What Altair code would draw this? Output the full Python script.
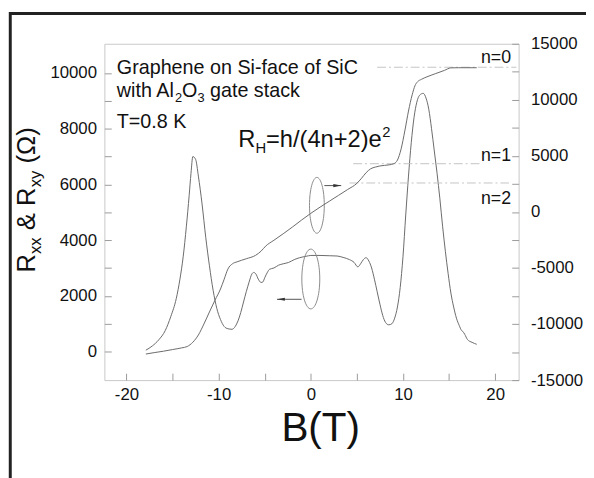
import altair as alt
import pandas as pd

FONT = "Liberation Sans"

# ---------------- data ----------------
# R_xx (left axis, Ohm) vs B (T)
B_xx = [-17.9, -17.2, -16.5, -15.8, -15.2, -14.6, -14.2, -13.85, -13.5, -13.2, -13.0, -12.8,
        -12.5, -12.2, -11.8, -11.4, -11.0, -10.6, -10.2, -9.8, -9.4, -9.0, -8.55, -8.2, -7.9,
        -7.6, -7.3, -7.0, -6.7, -6.4, -6.2, -5.95, -5.7, -5.4, -5.2, -5.0, -4.7, -4.5, -4.0,
        -3.5, -3.0, -2.4, -1.8, -1.2, -0.5, 0.0, 1.0, 2.0, 2.85, 3.5, 4.2, 4.7, 5.1, 5.4, 5.7,
        6.0, 6.3, 6.6, 6.9, 7.2, 7.5, 7.8, 8.1, 8.45, 8.8, 9.1, 9.4, 9.7, 10.0, 10.3, 10.6,
        10.9, 11.2, 11.5, 11.8, 12.2, 12.5, 12.8, 13.1, 13.4, 13.7, 14.0, 14.3, 14.6, 14.9,
        15.2, 15.5, 15.8, 16.1, 16.35, 16.5, 16.7, 17.0, 17.5, 18.0]
R_xx = [50, 200, 420, 750, 1250, 1900, 2600, 3400, 4500, 5600, 6400, 7000,
        6900, 6300, 5300, 4100, 3080, 2200, 1550, 1150, 900, 820, 800, 900, 1100,
        1400, 1780, 2150, 2490, 2780, 2840, 2780, 2600, 2480, 2500, 2650, 2850, 2950, 3000,
        3100, 3150, 3200, 3300, 3370, 3420, 3450, 3450, 3440, 3430, 3380, 3300, 3200, 3040, 3150, 3300,
        3370, 3250, 3000, 2600, 2150, 1700, 1300, 1050, 960, 1000, 1200, 1600, 2300, 3400, 4900, 6300,
        7500, 8400, 8950, 9200, 9270, 9100, 8700, 8000, 7200, 6400, 5500, 4500, 3600, 2800,
        2100, 1600, 1200, 940, 760, 720, 620, 430, 330, 260]

# R_xy (right axis, Ohm) vs B (T)
B_xy = [-17.9, -17.0, -16.0, -15.0, -14.0, -13.4, -12.8, -12.2, -11.6, -11.0, -10.4, -9.8,
        -9.4, -9.0, -8.5, -8.0, -7.0, -6.0, -5.4, -4.9, -4.0, -3.0, -2.0, -1.0, 0.0, 1.0,
        2.0, 3.0, 4.0, 5.0, 5.5, 6.0, 6.5, 7.0, 7.5, 8.0, 8.5, 9.0, 9.4, 9.8, 10.2, 10.6,
        11.0, 11.3, 11.6, 12.0, 12.6, 13.5, 14.5, 15.2, 16.0, 18.0]
R_xy = [-12675, -12550, -12425, -12275, -12125, -12000, -11625, -10975, -10000, -8925, -7875, -6875,
        -6000, -5100, -4625, -4450, -4175, -3875, -3500, -3050, -2525, -1950, -1350, -725, -125, 425,
        950, 1475, 2000, 2550, 3000, 3500, 3850, 4000, 4100, 4150, 4200, 4300, 4625, 5625, 7225, 9000,
        10450, 11250, 11625, 11825, 12050, 12325, 12625, 12850, 12862, 12862]

# quantised Hall plateaus h/((4n+2)e^2) and where their guide lines run
plateau_R = [12906, 4302, 2581]
plateau_B0 = [7.2, 4.6, 4.2]
plateau_B1 = [22.3, 18.5, 21.5]

x_ticks = [-20, -15, -10, -5, 0, 5, 10, 15, 20]
left_ticks = [0, 1000, 2000, 3000, 4000, 5000, 6000, 7000, 8000, 9000, 10000]
right_ticks = [-15000, -12500, -10000, -7500, -5000, -2500, 0, 2500, 5000, 7500, 10000, 12500, 15000]

# annotation ellipses / arrows (B, R_xx-axis units)
ell_B = [0.66, 0.0]
ell_L = [5250, 2605]
arrow_B0 = [1.47, -1.0]
arrow_B1 = [3.3, -3.67]
arrow_L = [5958, 1876]

# ---------------- scales / axes ----------------
xs = alt.Scale(domain=[-22.4, 22.55], nice=False, zero=False)
ysL = alt.Scale(domain=[-1025, 11050], nice=False, zero=False)
ysR = alt.Scale(domain=[-15000, 15000], nice=False, zero=False)

common_axis = dict(domain=False, grid=False, title=None, tickColor="#9a9a9a", tickWidth=1,
                   tickSize=7, offset=-7, labelFont=FONT, labelFontSize=17, labelColor="#111111",
                   labelOverlap=False, labelFlush=False)

axX = alt.Axis(values=x_ticks, orient="bottom", labelPadding=7,
               labelExpr="datum.value % 10 == 0 ? '' + datum.value : ''", **common_axis)
axL = alt.Axis(values=left_ticks, orient="left", labelPadding=8,
               labelExpr="datum.value % 2000 == 0 ? '' + datum.value : ''", **common_axis)
axR = alt.Axis(values=right_ticks, orient="right", labelPadding=12,
               labelExpr="datum.value % 5000 == 0 ? '' + datum.value : ''", **common_axis)

X = lambda f="B": alt.X(f"{f}:Q", scale=xs, axis=axX)
YL = lambda f="L": alt.Y(f"{f}:Q", scale=ysL, axis=axL)
YR = lambda f="R": alt.Y(f"{f}:Q", scale=ysR, axis=axR)

LINE_COL = "#6a6a6a"

# ---------------- left group ----------------
rxx = alt.Chart(pd.DataFrame({"B": B_xx, "L": R_xx})).mark_line(
    color=LINE_COL, strokeWidth=1, interpolate="monotone").encode(x=X(), y=YL())

ell1 = alt.Chart(pd.DataFrame({"B": ell_B[:1], "L": ell_L[:1]})).mark_point(
    shape="M0,-1A0.265,1,0,1,1,0,1A0.265,1,0,1,1,0,-1Z", size=3204, filled=False,
    stroke="#8a8a8a", strokeWidth=1, opacity=1).encode(x=X(), y=YL())
ell2 = alt.Chart(pd.DataFrame({"B": ell_B[1:], "L": ell_L[1:]})).mark_point(
    shape="M0,-1A0.3,1,0,1,1,0,1A0.3,1,0,1,1,0,-1Z", size=3672, filled=False,
    stroke="#8a8a8a", strokeWidth=1, opacity=1).encode(x=X(), y=YL())

arr_df = pd.DataFrame({"B": arrow_B0, "B2": arrow_B1, "L": arrow_L})
arrows = alt.Chart(arr_df).mark_rule(color="#555555", strokeWidth=1).encode(
    x=X(), x2="B2:Q", y=YL())
head_r = alt.Chart(pd.DataFrame({"B": [arrow_B1[0] - 0.43], "L": [arrow_L[0]]})).mark_point(
    shape="M-1,-0.4L1,0L-1,0.4Z", size=64, filled=True, color="#333333", opacity=1).encode(x=X(), y=YL())
head_l = alt.Chart(pd.DataFrame({"B": [arrow_B1[1] + 0.43], "L": [arrow_L[1]]})).mark_point(
    shape="M1,-0.4L-1,0L1,0.4Z", size=64, filled=True, color="#333333", opacity=1).encode(x=X(), y=YL())


def txt(s, x, y, size, align="left", angle=0, color="#111111"):
    kw = dict(text=s, font=FONT, fontSize=size, align=align, baseline="alphabetic", color=color)
    if angle:
        kw["angle"] = angle
    return alt.Chart(pd.DataFrame({"t": [s]})).mark_text(**kw).encode(
        x=alt.value(x), y=alt.value(y))


texts = [
    txt("Graphene on Si-face of SiC", 12.6, 30.7, 20),
    txt("with Al", 12.6, 54, 20),
    txt("2", 71.5, 59, 13),
    txt("O", 78.7, 54, 20),
    txt("3", 94.3, 59, 13),
    txt("gate stack", 107.1, 54, 20),
    txt("T=0.8 K", 12.6, 85.7, 20),
    txt("R", 135.8, 105, 24),
    txt("H", 153.1, 111, 15),
    txt("=h/(4n+2)e", 163.9, 105, 24),
    txt("2", 281.8, 95, 15),
    txt("n=0", 412.3, 19.5, 18, align="right"),
    txt("n=1", 412.3, 119, 18, align="right"),
    txt("n=2", 412.3, 162.3, 18, align="right"),
    txt("B(T)", 219.3, 403, 41, align="center"),
    txt("R", -70.7, 232, 26, angle=270),
    txt("xx", -64.7, 213.2, 17, angle=270),
    txt("&", -70.7, 189, 26, angle=270),
    txt("R", -70.7, 164.5, 26, angle=270),
    txt("xy", -64.7, 145.6, 17, angle=270),
    txt("(Ω)", -70.7, 121.4, 26, angle=270),
]

border = alt.Chart(pd.DataFrame({"t": [0]})).mark_rect(
    filled=False, stroke="#222222", strokeWidth=3).encode(
    x=alt.value(-95.4), y=alt.value(-30.7), x2=alt.value(700), y2=alt.value(700))

left_group = alt.layer(rxx, ell1, ell2, arrows, head_r, head_l, border, *texts)

# ---------------- right group ----------------
rxy = alt.Chart(pd.DataFrame({"B": B_xy, "R": R_xy})).mark_line(
    color=LINE_COL, strokeWidth=1, interpolate="monotone").encode(x=X(), y=YR())

plat = alt.Chart(pd.DataFrame({"B": plateau_B0, "B2": plateau_B1, "R": plateau_R})).mark_rule(
    color="#c4c4c4", strokeWidth=1, strokeDash=[9, 3, 2, 3]).encode(x=X(), x2="B2:Q", y=YR())

right_group = alt.layer(plat, rxy)

chart = alt.layer(left_group, right_group).resolve_scale(y="independent").properties(
    width=420, height=341,
    padding={"left": 97.7, "top": 33, "right": 68.3, "bottom": 96},
    autosize=alt.AutoSizeParams(type="none"),
    background="white",
).configure_view(stroke="#c8c8c8", strokeWidth=1)

chart.save("out.html", embed_options={"renderer": "svg", "actions": False})
